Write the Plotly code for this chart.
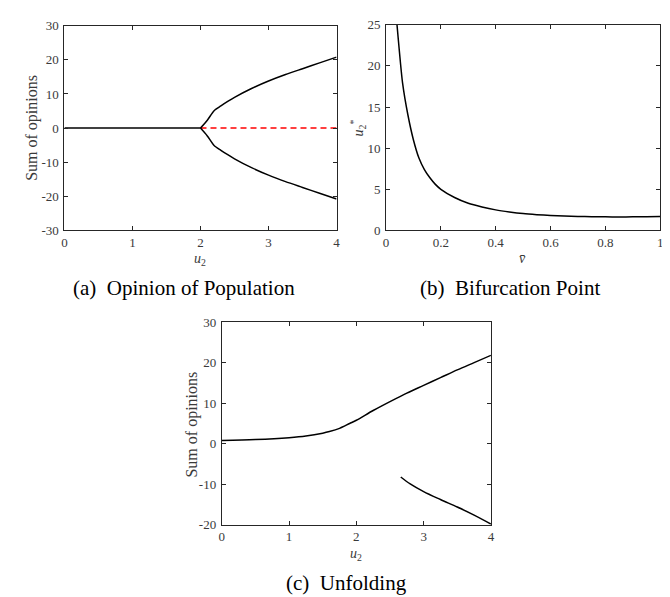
import plotly.graph_objects as go

# Panel (a): opinion of population
a_flat_x = [0, 0.5, 1, 1.5, 2]
a_flat_y = [0, 0, 0, 0, 0]
a_branch_x = [2.0, 2.1, 2.2, 2.3, 2.4, 2.5, 2.75, 3.0, 3.25, 3.5, 3.75, 4.0]
a_branch_up = [0, 2.3, 5.1, 6.5, 7.8, 9.0, 11.6, 13.8, 15.7, 17.4, 19.1, 20.8]
a_branch_dn = [-v for v in a_branch_up]
a_unstable_x = [2.0, 4.0]
a_unstable_y = [0, 0]

# Panel (b): bifurcation point
b_x = [0.04, 0.06, 0.08, 0.10, 0.12, 0.14, 0.16, 0.18, 0.20, 0.25, 0.30, 0.35, 0.40,
       0.45, 0.50, 0.55, 0.60, 0.65, 0.70, 0.75, 0.80, 0.85, 0.90, 0.95, 1.00]
b_y = [25.0, 18.0, 14.0, 11.0, 8.8, 7.4, 6.4, 5.6, 5.0, 4.0, 3.3, 2.85, 2.5,
       2.25, 2.05, 1.92, 1.82, 1.75, 1.70, 1.67, 1.65, 1.64, 1.65, 1.66, 1.70]

# Panel (c): unfolding
c_up_x = [0, 0.5, 1.0, 1.25, 1.5, 1.6, 1.75, 1.9, 2.0, 2.25, 2.5, 2.75, 3.0, 3.25, 3.5, 3.75, 4.0]
c_up_y = [0.8, 1.04, 1.5, 1.9, 2.6, 3.0, 3.8, 5.0, 5.8, 8.2, 10.4, 12.5, 14.4, 16.3, 18.2, 20.0, 21.8]
c_dn_x = [2.66, 2.8, 3.0, 3.25, 3.5, 3.75, 4.0]
c_dn_y = [-8.2, -9.9, -11.8, -13.75, -15.6, -17.6, -19.8]

W, H = 670, 597
SERIF = "'Times New Roman', 'Liberation Serif', 'DejaVu Serif', serif"
TICKC = "#3a3a3a"

fig = go.Figure()
line_k = dict(color="black", width=1.5)
smooth_k = dict(color="black", width=1.5, shape="spline", smoothing=0.7)
fig.add_trace(go.Scatter(x=a_flat_x, y=a_flat_y, mode="lines", line=line_k, xaxis="x", yaxis="y"))
fig.add_trace(go.Scatter(x=a_unstable_x, y=a_unstable_y, mode="lines",
                         line=dict(color="red", width=1.5, dash="6px,4px"), xaxis="x", yaxis="y"))
fig.add_trace(go.Scatter(x=a_branch_x, y=a_branch_up, mode="lines", line=smooth_k, xaxis="x", yaxis="y"))
fig.add_trace(go.Scatter(x=a_branch_x, y=a_branch_dn, mode="lines", line=smooth_k, xaxis="x", yaxis="y"))
fig.add_trace(go.Scatter(x=b_x, y=b_y, mode="lines", line=dict(color="black", width=1.5, shape="spline", smoothing=0.6),
                         xaxis="x2", yaxis="y2"))
fig.add_trace(go.Scatter(x=c_up_x, y=c_up_y, mode="lines", line=dict(color="black", width=1.5, shape="spline", smoothing=0.9),
                         xaxis="x3", yaxis="y3"))
fig.add_trace(go.Scatter(x=c_dn_x, y=c_dn_y, mode="lines", line=dict(color="black", width=1.5, shape="spline", smoothing=0.9),
                         xaxis="x3", yaxis="y3"))


def px_dom(a, b, total):
    return [a / total, b / total]


def ydom(top, bottom):
    return [1 - bottom / H, 1 - top / H]


def lbl(v):
    return "%g" % v


ax_common = dict(showline=True, linecolor="#262626", linewidth=1, mirror="ticks",
                 ticks="inside", ticklen=4, tickcolor="#262626", showgrid=False,
                 zeroline=False, tickfont=dict(family=SERIF, size=13, color=TICKC))

a_xt = [0, 1, 2, 3, 4]
a_yt = [-30, -20, -10, 0, 10, 20, 30]
b_xt = [0, 0.2, 0.4, 0.6, 0.8, 1]
b_yt = [0, 5, 10, 15, 20, 25]
c_xt = [0, 1, 2, 3, 4]
c_yt = [-20, -10, 0, 10, 20, 30]

fig.update_layout(
    width=W, height=H, margin=dict(l=0, r=0, t=0, b=0),
    paper_bgcolor="white", plot_bgcolor="white", showlegend=False,
    xaxis=dict(domain=px_dom(54, 329, W), range=[0, 4], tickvals=a_xt, ticktext=[lbl(v) for v in a_xt],
               anchor="y", **ax_common),
    yaxis=dict(domain=ydom(11, 221), range=[-30, 30], tickvals=a_yt, ticktext=[lbl(v) for v in a_yt],
               anchor="x", ticklabelstandoff=2, **ax_common),
    xaxis2=dict(domain=px_dom(379, 656, W), range=[0, 1], tickvals=b_xt, ticktext=[lbl(v) for v in b_xt],
                anchor="y2", **ax_common),
    yaxis2=dict(domain=ydom(10, 221), range=[0, 25], tickvals=b_yt, ticktext=[lbl(v) for v in b_yt],
                anchor="x2", ticklabelstandoff=2, **ax_common),
    xaxis3=dict(domain=px_dom(213, 485, W), range=[0, 4], tickvals=c_xt, ticktext=[lbl(v) for v in c_xt],
                anchor="y3", **ax_common),
    yaxis3=dict(domain=ydom(315, 523), range=[-20, 30], tickvals=c_yt, ticktext=[lbl(v) for v in c_yt],
                anchor="x3", ticklabelstandoff=2, **ax_common),
)

lab = dict(family=SERIF, size=14, color=TICKC)
ylab = dict(family=SERIF, size=16, color=TICKC)
cap = dict(family=SERIF, size=21, color="black")
ann = [
    # panel a
    dict(x=191 / W, y=1 - 251 / H, text="<i>u</i><sub>2</sub>", font=lab),
    dict(x=21 / W, y=1 - 116 / H, text="Sum of opinions", textangle=-90, font=ylab),
    dict(x=175 / W, y=1 - 280 / H, text="(a)  Opinion of Population", font=cap),
    # panel b
    dict(x=517 / W, y=1 - 250 / H, text="<i>v\u0304</i>", font=lab),
    dict(x=351 / W, y=1 - 116 / H, text="<i>u</i><sub>2</sub><sup>*</sup>", textangle=-90, font=lab),
    dict(x=504 / W, y=1 - 280 / H, text="(b)  Bifurcation Point", font=cap),
    # panel c
    dict(x=349 / W, y=1 - 553 / H, text="<i>u</i><sub>2</sub>", font=lab),
    dict(x=183 / W, y=1 - 420 / H, text="Sum of opinions", textangle=-90, font=ylab),
    dict(x=339 / W, y=1 - 583 / H, text="(c)  Unfolding", font=cap),
]
for a in ann:
    a.update(xref="paper", yref="paper", showarrow=False, xanchor="center", yanchor="middle")
fig.update_layout(annotations=ann)

fig.write_html("out.html")
